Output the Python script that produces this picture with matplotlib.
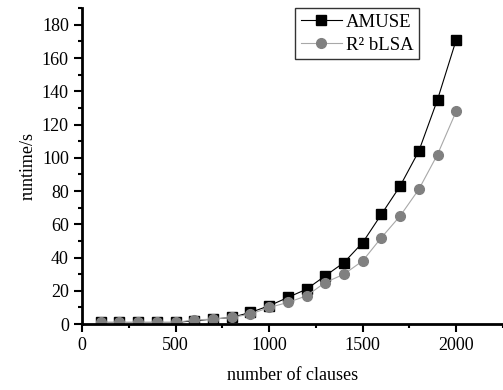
import matplotlib
matplotlib.use("Agg")
import matplotlib.pyplot as plt
from matplotlib.ticker import MultipleLocator

plt.rcParams["font.family"] = ["Liberation Serif", "DejaVu Serif"]

clauses = [100, 200, 300, 400, 500, 600, 700, 800, 900, 1000,
           1100, 1200, 1300, 1400, 1500, 1600, 1700, 1800, 1900, 2000]
amuse = [1, 1, 1, 1, 1, 2, 3, 4, 7, 11,
         16, 21, 29, 37, 49, 66, 83, 104, 135, 171]
r2blsa = [1, 1, 1, 1, 1, 2.5, 3, 4, 6, 10,
          13, 17, 25, 30, 38, 52, 65, 81, 102, 128]

fig = plt.figure(figsize=(5.03, 3.90), dpi=100)
ax = fig.add_axes([0.163, 0.169, 0.837, 0.81])

ax.plot(clauses, amuse, color="black", lw=0.8, marker="s", ms=7,
        label="AMUSE")
ax.plot(clauses, r2blsa, color="#a8a8a8", lw=0.8, marker="o", ms=7,
        mfc="#808080", mec="#808080", label="R² bLSA")

ax.set_xlim(0, 2250)
ax.set_ylim(0, 190)
ax.xaxis.set_major_locator(MultipleLocator(500))
ax.xaxis.set_minor_locator(MultipleLocator(250))
ax.yaxis.set_major_locator(MultipleLocator(20))
ax.yaxis.set_minor_locator(MultipleLocator(10))

for s in ["top", "right"]:
    ax.spines[s].set_visible(False)
for s in ["left", "bottom"]:
    ax.spines[s].set_linewidth(2)

ax.tick_params(which="major", direction="out", length=6, width=1.5,
               labelsize=13)
ax.tick_params(which="minor", direction="out", length=3, width=1.5)

ax.set_xlabel("number of clauses", fontsize=13, labelpad=9)
ax.set_ylabel("runtime/s", fontsize=13)

leg = ax.legend(loc="upper left", bbox_to_anchor=(0.506, 1.0), fontsize=13.5,
                frameon=True, fancybox=False, edgecolor="black",
                borderpad=0.3, borderaxespad=0, handlelength=2.2,
                handletextpad=0.2, labelspacing=0.3)
leg.get_frame().set_linewidth(1)

fig.savefig("out.png", dpi=100)
